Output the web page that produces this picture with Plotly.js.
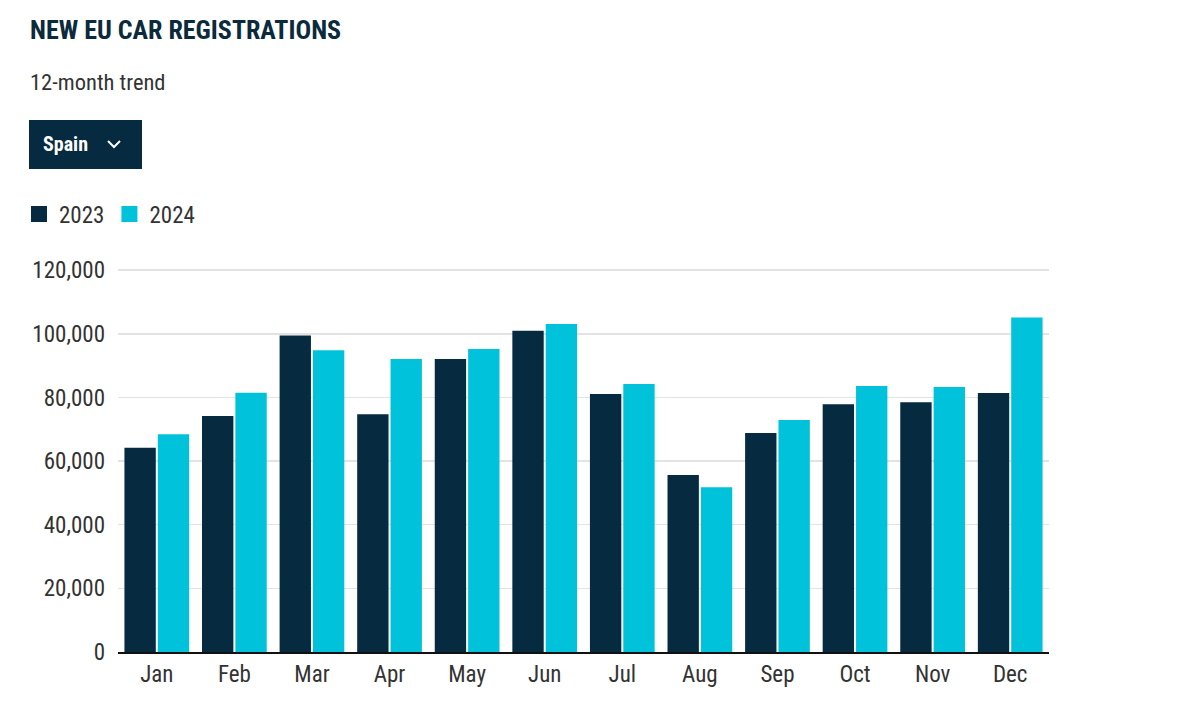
<!DOCTYPE html>
<html>
<head>
<meta charset="utf-8">
<script src="https://cdn.plot.ly/plotly-3.0.1.min.js"></script>
<style>
  html, body { margin: 0; padding: 0; background: #ffffff; }
  #chart { width: 1200px; height: 720px; }
</style>
</head>
<body>
<div id="chart"></div>
<script>
const months = ["Jan", "Feb", "Mar", "Apr", "May", "Jun", "Jul", "Aug", "Sep", "Oct", "Nov", "Dec"];
const regs2023 = [64200, 74200, 99500, 74700, 92100, 101000, 81100, 55600, 68800, 77900, 78500, 81400];
const regs2024 = [68400, 81500, 94800, 92100, 95200, 103100, 84200, 51800, 72900, 83600, 83300, 105100];
const yTickVals = [0, 20000, 40000, 60000, 80000, 100000, 120000];
const yTickText = ["0", "20,000", "40,000", "60,000", "80,000", "100,000", "120,000"];
const seriesNames = ["2023", "2024"];

const FONT = '"Roboto Condensed", "Liberation Sans Narrow", "DejaVu Sans Condensed", Roboto, sans-serif';
const NAVY = "#062b40";
const CYAN = "#00c2db";

// plot area geometry (pixels)
const L = 118, R = 1049, T = 267, B = 652;
const PW = R - L, PH = B - T;
const px = (x) => (x - L) / PW;
const py = (y) => (B - y) / PH;

const traces = [
  { type: "bar", name: seriesNames[0], x: months, y: regs2023, marker: { color: NAVY }, showlegend: false, legendgroup: "a" },
  { type: "bar", name: seriesNames[1], x: months, y: regs2024, marker: { color: CYAN }, showlegend: false, legendgroup: "b" },
  // legend entries (larger square swatches)
  { type: "scatter", mode: "markers", name: seriesNames[0], x: [months[0]], y: [null], legendgroup: "a",
    marker: { symbol: "square", size: 16, color: NAVY, line: { width: 0 } }, hoverinfo: "skip" },
  { type: "scatter", mode: "markers", name: seriesNames[1], x: [months[0]], y: [null], legendgroup: "b",
    marker: { symbol: "square", size: 16, color: CYAN, line: { width: 0 } }, hoverinfo: "skip" }
];

const layout = {
  width: 1200, height: 720,
  margin: { l: L, r: 1200 - R, t: T, b: 720 - B },
  paper_bgcolor: "#ffffff", plot_bgcolor: "#ffffff",
  font: { family: FONT, size: 23, color: "#333333" },
  barmode: "group", bargap: 0.14, bargroupgap: 0.06,
  showlegend: true,
  legend: {
    orientation: "h", x: px(19), xanchor: "left", y: py(214), yanchor: "middle",
    font: { family: FONT, size: 23, color: "#333333" },
    itemwidth: 30, traceorder: "normal", itemsizing: "trace"
  },
  xaxis: {
    type: "category", range: [-0.5, months.length - 0.5], autorange: false,
    showgrid: false, zeroline: false,
    showline: true, linecolor: "#111111", linewidth: 2,
    ticks: "", tickfont: { family: FONT, size: 23, color: "#333333" }
  },
  yaxis: {
    range: [0, 121000], tickvals: yTickVals, ticktext: yTickText,
    showgrid: true, gridcolor: "#e3e3e3", gridwidth: 1.5,
    zeroline: false, showline: false, ticks: "", ticklabelstandoff: 12,
    tickfont: { family: FONT, size: 23, color: "#333333" }
  },
  shapes: [
    { type: "rect", xref: "paper", yref: "paper",
      x0: px(29), x1: px(142), y0: py(169), y1: py(120),
      fillcolor: NAVY, line: { width: 0 } },
    { type: "path", xref: "paper", yref: "paper",
      path: "M" + px(108) + "," + py(141) + " L" + px(114) + "," + py(147) + " L" + px(120) + "," + py(141),
      line: { color: "#ffffff", width: 2 }, fillcolor: "rgba(0,0,0,0)" }
  ],
  annotations: [
    { xref: "paper", yref: "paper", x: px(28), y: py(30), xanchor: "left", yanchor: "middle",
      text: "<b>NEW EU CAR REGISTRATIONS</b>", showarrow: false,
      font: { family: FONT, size: 26, color: "#0b2a3c" } },
    { xref: "paper", yref: "paper", x: px(28), y: py(82), xanchor: "left", yanchor: "middle",
      text: "12-month trend", showarrow: false,
      font: { family: FONT, size: 22.5, color: "#333333" } },
    { xref: "paper", yref: "paper", x: px(41), y: py(144), xanchor: "left", yanchor: "middle",
      text: "<b>Spain</b>", showarrow: false,
      font: { family: FONT, size: 20, color: "#ffffff" } }
  ]
};

Plotly.newPlot("chart", traces, layout, { displayModeBar: false, staticPlot: true });
</script>
</body>
</html>
